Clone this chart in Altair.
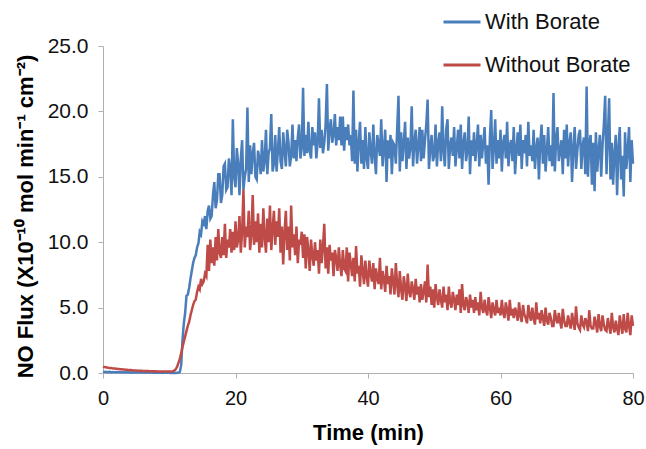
import altair as alt
import pandas as pd

# sample times (min), 0.2-min spacing
time_min = [round(i * 0.2, 1) for i in range(401)]

with_borate = [
    0.1, 0.08, 0.1, 0.06, 0.08, 0.1, 0.05, 0.08, 0.06, 0.05,
    0.08, 0.05, 0.06, 0.08, 0.04, 0.05, 0.06, 0.04, 0.05, 0.06,
    0.04, 0.05, 0.03, 0.05, 0.04, 0.03, 0.05, 0.04, 0.03, 0.04,
    0.03, 0.04, 0.02, 0.04, 0.03, 0.02, 0.04, 0.03, 0.02, 0.03,
    0.02, 0.03, 0.02, 0.03, 0.02, 0.01, 0.03, 0.02, 0.02, 0.03,
    0.02, 0.01, 0.02, 0.01, 0.02, 0.01, 0.02, 0.02, 0.1, 0.6,
    2.5, 3.8, 4.6, 5.9, 6.0, 6.5, 7.2, 7.8, 8.4, 8.8,
    9.0, 9.6, 9.9, 10.8, 10.6, 11.6, 11.4, 12.0, 11.0, 12.4,
    12.8, 11.8, 12.0, 13.6, 14.6, 12.6, 13.2, 15.2, 15.2, 13.0,
    13.6, 15.8, 16.0, 14.0, 14.2, 16.4, 15.6, 13.6, 19.4, 15.0,
    14.2, 17.2, 16.0, 13.6, 16.4, 17.8, 14.0, 15.0, 15.6, 20.3,
    14.6, 17.4, 15.2, 16.8, 17.6, 15.0, 14.8, 17.0, 16.4, 15.2,
    17.8, 15.4, 16.2, 18.6, 15.2, 16.8, 17.2, 19.8, 15.4, 16.0,
    18.2, 15.4, 17.0, 18.8, 16.2, 15.6, 18.4, 17.0, 15.8, 18.6,
    17.6, 15.8, 16.6, 19.0, 16.4, 17.8, 16.2, 18.0, 19.0, 16.4,
    17.2, 21.8, 16.6, 18.2, 16.8, 19.2, 17.0, 16.4, 18.8, 17.4,
    18.4, 16.4, 17.6, 21.0, 17.2, 18.6, 16.8, 17.6, 19.0, 22.1,
    17.0, 18.6, 19.4, 17.6, 18.2, 19.8, 17.4, 18.8, 17.8, 19.6,
    17.4, 19.6, 17.0, 18.8, 17.8, 19.0, 17.4, 18.2, 16.2, 21.6,
    16.0, 18.6, 15.4, 17.6, 19.2, 16.0, 17.8, 15.6, 18.8, 16.4,
    15.6, 18.4, 17.0, 16.0, 19.0, 16.6, 15.2, 18.2, 17.4, 16.6,
    19.4, 15.8, 17.2, 18.6, 14.6, 17.8, 16.4, 18.2, 15.2, 17.6,
    17.4, 16.0, 18.6, 21.2, 15.4, 18.4, 16.2, 17.6, 19.2, 15.6,
    18.0, 16.4, 17.2, 20.4, 15.8, 17.6, 18.6, 16.0, 17.4, 18.8,
    16.2, 18.6, 16.4, 17.8, 19.0, 20.9, 15.6, 17.2, 18.2, 16.2,
    16.6, 19.0, 15.8, 17.6, 18.4, 16.2, 20.4, 17.0, 15.8, 18.6,
    19.4, 15.6, 17.4, 18.0, 16.6, 18.8, 15.8, 17.2, 18.6, 16.4,
    19.0, 15.6, 17.6, 18.4, 16.2, 17.0, 19.6, 15.2, 17.8, 16.6,
    18.4, 16.2, 17.4, 19.0, 15.8, 18.2, 16.4, 17.6, 18.8, 16.0,
    17.4, 14.4, 18.0, 20.1, 15.6, 17.2, 19.4, 16.0, 17.8, 16.4,
    18.6, 15.4, 17.6, 18.2, 16.4, 19.2, 15.8, 17.4, 17.8, 16.2,
    18.8, 15.2, 17.0, 18.4, 16.6, 19.0, 15.6, 17.8, 16.8, 18.2,
    15.8, 19.2, 16.6, 17.4, 16.2, 18.6, 15.6, 17.2, 18.0, 14.8,
    17.6, 19.0, 16.0, 18.2, 15.4, 17.0, 18.8, 16.2, 17.4, 15.8,
    21.4, 15.4, 17.8, 18.8, 16.2, 17.0, 17.8, 15.2, 18.6, 16.4,
    19.0, 15.8, 17.6, 18.4, 14.6, 17.2, 18.8, 15.6, 17.0, 18.2,
    18.6, 15.6, 17.4, 18.0, 15.2, 21.9, 15.0, 17.6, 18.2, 14.4,
    17.6, 13.9, 18.4, 15.4, 17.0, 18.2, 15.0, 17.4, 19.0, 21.2,
    15.2, 18.0, 21.0, 14.8, 17.6, 14.4, 16.8, 18.2, 13.6, 17.2,
    18.8, 14.8, 16.6, 13.5, 18.4, 15.6, 17.0, 18.8, 14.6, 17.8,
    16.0,
]

without_borate = [
    0.48, 0.45, 0.44, 0.42, 0.4, 0.39, 0.38, 0.36, 0.35, 0.34,
    0.33, 0.31, 0.3, 0.29, 0.28, 0.27, 0.26, 0.25, 0.24, 0.23,
    0.22, 0.22, 0.21, 0.2, 0.19, 0.19, 0.18, 0.18, 0.17, 0.17,
    0.16, 0.16, 0.15, 0.15, 0.15, 0.14, 0.14, 0.14, 0.13, 0.13,
    0.13, 0.12, 0.12, 0.12, 0.12, 0.11, 0.11, 0.11, 0.11, 0.11,
    0.11, 0.12, 0.12, 0.14, 0.2, 0.3, 0.5, 0.8, 1.1, 1.5,
    2.0, 2.4, 2.8, 3.2, 3.6, 3.9, 4.4, 4.8, 5.2, 5.5,
    5.6, 6.2, 6.6, 6.4, 7.2, 6.8, 7.0, 7.6, 7.4, 9.8,
    7.8, 10.2, 8.4, 9.6, 8.2, 10.4, 8.6, 11.0, 9.2, 8.8,
    10.4, 9.0, 11.4, 8.8, 10.2, 9.6, 11.0, 9.2, 10.8, 9.4,
    11.6, 9.6, 10.2, 12.0, 9.2, 10.8, 14.0, 9.6, 11.2, 10.4,
    12.4, 9.4, 10.6, 13.6, 9.8, 11.6, 10.0, 12.2, 9.2, 11.4,
    9.6, 12.6, 10.4, 9.2, 11.8, 10.0, 12.8, 9.4, 11.0, 12.4,
    9.8, 11.6, 10.4, 12.6, 9.2, 11.2, 8.3, 10.8, 12.4, 9.4,
    11.2, 8.6, 12.8, 9.6, 10.6, 9.0, 11.2, 8.4, 10.2, 9.8,
    10.8, 8.8, 10.6, 8.0, 10.4, 9.4, 7.8, 10.2, 9.0, 8.2,
    10.0, 8.6, 9.4, 7.6, 10.2, 8.4, 9.6, 11.4, 8.0, 9.6,
    7.6, 9.8, 8.6, 9.2, 7.4, 9.4, 8.8, 7.8, 9.6, 8.2,
    7.4, 9.4, 8.0, 7.8, 9.6, 7.0, 9.2, 8.4, 7.4, 8.8,
    7.0, 9.7, 7.6, 8.2, 6.6, 9.0, 7.8, 6.8, 8.6, 7.4,
    6.6, 8.6, 7.6, 7.0, 8.4, 6.4, 8.0, 7.2, 6.8, 8.8,
    6.4, 7.8, 7.2, 6.2, 8.2, 6.8, 7.4, 6.0, 8.0, 7.0,
    6.0, 8.4, 6.8, 5.8, 7.8, 6.4, 5.6, 7.4, 6.6, 5.5,
    7.6, 6.2, 5.8, 7.0, 6.4, 5.6, 7.2, 6.0, 6.6, 5.4,
    6.8, 5.6, 6.2, 7.0, 5.4, 8.3, 5.8, 6.6, 5.2, 6.4,
    5.0, 6.8, 5.8, 5.2, 6.4, 5.6, 5.0, 6.6, 5.4, 6.0,
    4.8, 6.6, 5.4, 5.0, 6.2, 5.6, 4.8, 6.0, 5.2, 6.4,
    4.6, 6.8, 5.2, 4.8, 5.8, 5.4, 4.6, 6.0, 5.0, 5.6,
    4.6, 5.8, 4.8, 5.4, 4.4, 6.2, 5.0, 4.6, 5.6, 4.8,
    4.4, 5.8, 5.0, 4.2, 5.4, 4.8, 4.4, 5.6, 4.6, 5.0,
    4.4, 5.6, 4.6, 4.2, 5.4, 4.8, 4.0, 5.6, 4.4, 4.9,
    4.2, 5.0, 4.6, 4.0, 5.4, 4.4, 3.9, 5.2, 4.5, 4.2,
    3.8, 5.2, 4.4, 4.0, 5.0, 4.2, 3.7, 5.4, 4.1, 4.6,
    3.8, 4.8, 4.2, 3.6, 5.0, 4.0, 3.7, 4.6, 4.2, 3.6,
    3.6, 4.8, 4.1, 3.8, 4.6, 3.9, 3.4, 4.9, 4.0, 3.6,
    3.6, 4.4, 3.8, 3.4, 4.6, 3.9, 3.3, 5.1, 3.8, 3.5,
    3.3, 4.4, 3.7, 3.5, 4.2, 3.9, 3.2, 4.8, 3.6, 3.4,
    3.4, 4.3, 3.8, 3.1, 4.5, 3.6, 3.2, 4.4, 3.7, 3.3,
    3.2, 4.2, 3.6, 3.0, 4.6, 3.5, 3.1, 4.0, 3.4, 2.9,
    4.4, 3.6, 3.0, 4.5, 3.4, 3.1, 4.6, 3.6, 2.9, 4.4,
    3.6,
]

assert len(with_borate) == len(time_min) == len(without_borate)

series_names = ["With Borate", "Without Borate"]
series_colors = ["#4A7EBB", "#BE4B48"]
x_ticks = [0, 20, 40, 60, 80]
y_ticks = [0, 5, 10, 15, 20, 25]

df_with = pd.DataFrame({"t": time_min, "v": with_borate, "s": series_names[0]})
df_without = pd.DataFrame({"t": time_min, "v": without_borate, "s": series_names[1]})

FONT = "Liberation Sans"

x_enc = alt.X(
    "t:Q",
    scale=alt.Scale(domain=[0, 80], nice=False),
    axis=alt.Axis(
        title="Time (min)", values=x_ticks, grid=False, labelFontSize=20,
        titleFontSize=22, titleFontWeight="bold", labelPadding=10, titlePadding=14,
        tickSize=5, labelFlush=False,
    ),
)
y_enc = alt.Y(
    "v:Q",
    scale=alt.Scale(domain=[0, 25], nice=False),
    axis=alt.Axis(
        title="NO Flux (X10⁻¹⁰ mol min⁻¹ cm⁻²)", values=y_ticks, format=".1f",
        grid=False, labelFontSize=21, titleFontSize=22, titleFontWeight="bold",
        labelPadding=10, titlePadding=10, tickSize=5, labelFlush=False,
        titleY=170,
    ),
)
color_enc = alt.Color(
    "s:N",
    scale=alt.Scale(domain=series_names, range=series_colors),
    legend=alt.Legend(
        title=None, orient="none", legendX=339, legendY=-44,
        symbolType="stroke", symbolSize=1369, symbolStrokeWidth=3,
        labelFontSize=22, rowPadding=12, labelOffset=3, padding=0,
    ),
)

blue = alt.Chart(df_with).mark_line(strokeWidth=2.5).encode(x=x_enc, y=y_enc, color=color_enc)
red = alt.Chart(df_without).mark_line(strokeWidth=2.5).encode(x=x_enc, y=y_enc, color=color_enc)

chart = alt.layer(blue, red).properties(
    width=530, height=327,
    autosize=alt.AutoSizeParams(type="none"),
    padding={"left": 103, "top": 46, "right": 13, "bottom": 76},
).configure(font=FONT).configure_view(stroke=None).configure_axis(
    domainColor="#b0b0b0", tickColor="#b0b0b0", labelColor="#111111",
    titleColor="#000000", labelFont=FONT, titleFont=FONT,
).configure_legend(labelFont=FONT, labelColor="#111111")

chart.save("out.html", embed_options={"renderer": "svg", "actions": False})
